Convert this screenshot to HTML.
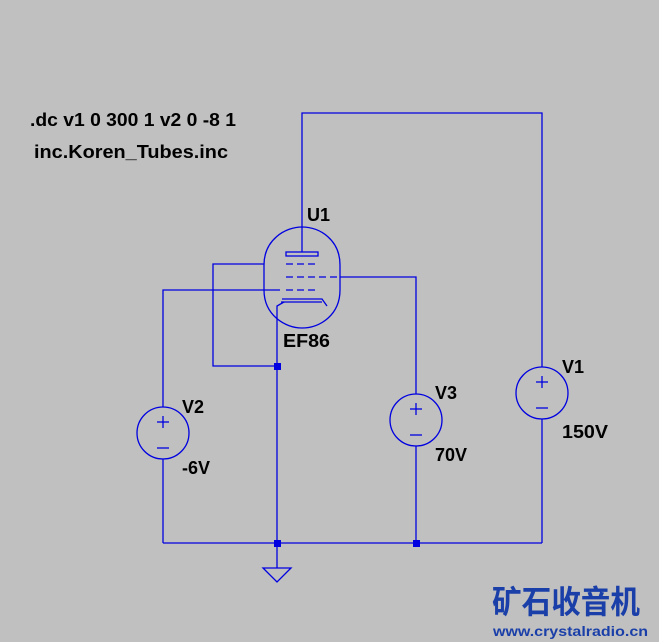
<!DOCTYPE html>
<html><head><style>
body{margin:0;background:#c0c0c0;}
svg{display:block}
text{font-family:"Liberation Sans",sans-serif;font-weight:bold;font-size:18px;fill:#000}
</style></head><body>
<svg width="659" height="642" viewBox="0 0 659 642">
<rect width="659" height="642" fill="#c0c0c0"/>
<g stroke="#0000e0" stroke-width="1.3" fill="none">
<polyline points="302,252 302,113 542,113 542,367"/>
<line x1="542" y1="419" x2="542" y2="543"/>
<rect x="286" y="252" width="32" height="4"/>
<path d="M264,265 C264,240 285,227 302,227 C320,227 340,240 340,265 L340,290 C340,315 320,328 302,328 C285,328 264,315 264,290 Z"/>
<polyline points="264,264 213,264 213,366 277,366"/>
<line x1="286" y1="264" x2="319" y2="264" stroke-dasharray="7,4"/>
<line x1="286" y1="277" x2="340" y2="277" stroke-dasharray="7,4"/>
<polyline points="340,277 416,277 416,394"/>
<line x1="416" y1="446" x2="416" y2="543"/>
<polyline points="280,290 163,290 163,407"/>
<line x1="286" y1="290" x2="319" y2="290" stroke-dasharray="7,4"/>
<line x1="163" y1="459" x2="163" y2="543"/>
<polyline points="282,299 322,299 327,306"/>
<polyline points="281,302 322,302"/>
<polyline points="284,302 277,306 277,568"/>
<line x1="163" y1="543" x2="542" y2="543"/>
<polygon points="263,568 291,568 277,582"/>
<circle cx="163" cy="433" r="26"/>
<line x1="157" y1="422" x2="169" y2="422"/><line x1="163" y1="416" x2="163" y2="428"/>
<line x1="157" y1="448" x2="169" y2="448"/>
<circle cx="416" cy="420" r="26"/>
<line x1="410" y1="409" x2="422" y2="409"/><line x1="416" y1="403" x2="416" y2="415"/>
<line x1="410" y1="435" x2="422" y2="435"/>
<circle cx="542" cy="393" r="26"/>
<line x1="536" y1="382" x2="548" y2="382"/><line x1="542" y1="376" x2="542" y2="388"/>
<line x1="536" y1="408" x2="548" y2="408"/>
</g>
<g fill="#0000e0">
<rect x="274" y="363" width="7" height="7"/>
<rect x="274" y="540" width="7" height="7"/>
<rect x="413" y="540" width="7" height="7"/>
</g>
<text x="30" y="126" textLength="206" lengthAdjust="spacingAndGlyphs">.dc v1 0 300 1 v2 0 -8 1</text>
<text x="34" y="158" textLength="194" lengthAdjust="spacingAndGlyphs">inc.Koren_Tubes.inc</text>
<text x="307" y="221">U1</text>
<text x="283" y="347" textLength="47" lengthAdjust="spacingAndGlyphs">EF86</text>
<text x="182" y="413">V2</text>
<text x="182" y="474">-6V</text>
<text x="435" y="399">V3</text>
<text x="435" y="461">70V</text>
<text x="562" y="373">V1</text>
<text x="562" y="438" textLength="46" lengthAdjust="spacingAndGlyphs">150V</text>
<text x="492" y="613" textLength="148" lengthAdjust="spacingAndGlyphs" style="font-family:'Noto Sans CJK SC',sans-serif;font-size:32px;fill:#1a3fa8;font-weight:bold">矿石收音机</text>
<text x="493" y="636" textLength="155" lengthAdjust="spacingAndGlyphs" style="font-size:14px;fill:#1a3fa8">www.crystalradio.cn</text>
</svg>
</body></html>
